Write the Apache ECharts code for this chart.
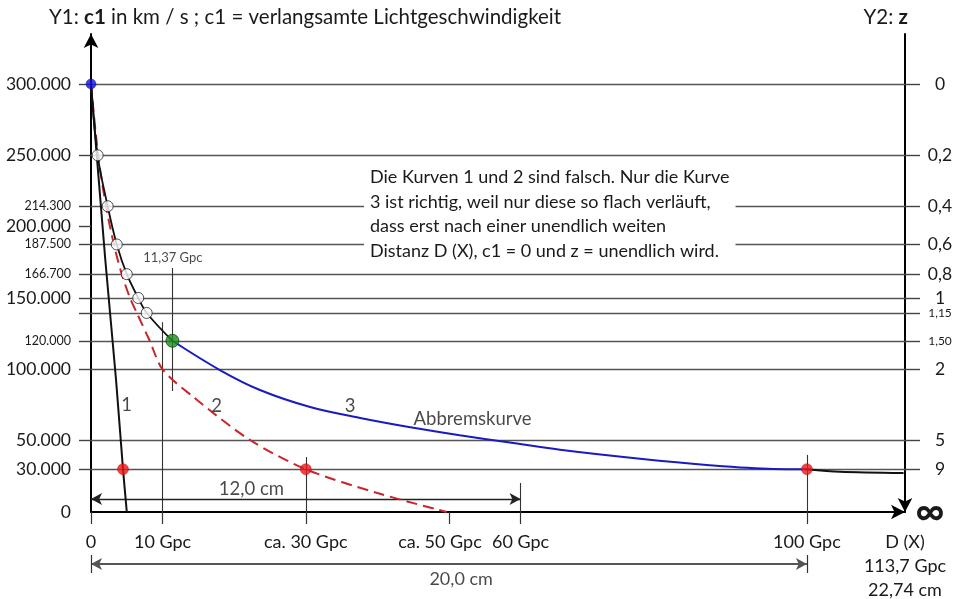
<!DOCTYPE html>
<html><head><meta charset="utf-8">
<script src="https://cdn.jsdelivr.net/npm/echarts@6/dist/echarts.min.js"></script>
<style>html,body{margin:0;padding:0;background:#fff}#c{width:960px;height:599px}</style>
</head><body><div id="c"></div>
<script>
const FONT = 'Lato';
// ---- data (x in Gpc, y = c1 in km/s) ----
const curve1 = [[0,300000],[2.0,176600],[3.5,92500],[4.47,30000],[5.0,0]];
const curve2 = [[0,300000],[1.0,250000],[2.1,214300],[3.2,187500],[4.3,166700],[5.45,150000],[6.4,139500],[8.2,120000],[10.0,100000],[14.3,80600],[22.2,50500],[30,30000],[40,13300],[49.7,0]];
const curve3Upper = [[0,300000],[0.93,250000],[2.33,214300],[3.6,187500],[5.0,166700],[6.6,150000],[7.78,139500],[11.37,120000]];
const curve3Blue = [[11.37,120000],[18,99500],[23.6,85500],[30.6,73600],[37.6,65900],[44.6,59400],[51.5,53800],[58.5,48700],[65.5,43600],[76.7,37300],[86,33000],[95.3,30200],[100,30000]];
const curve3Tail = [[100,30000],[104.6,28200],[113.5,27300]];
const openCircles = [[0.93,250000],[2.33,214300],[3.6,187500],[5.0,166700],[6.6,150000],[7.78,139500]];
const startPoint = [[0,300000]];
const greenPoint = [[11.37,120000]];
const redPoints = [[4.47,30000],[30,30000],[100,30000]];

const gridLevels = [300000,250000,214300,187500,166700,150000,139500,120000,100000,50000,30000];
const leftTickValues = [300000,250000,214300,200000,187500,166700,150000,139500,120000,100000,50000,30000];
const leftLabelValues = [300000,250000,214300,200000,187500,166700,150000,120000,100000,50000,30000,0];
const leftSmall = [214300,187500,166700,120000];
const rightLevels = [300000,250000,214300,187500,166700,150000,139500,120000,100000,50000,30000,0];
const rightLabels = ['0','0,2','0,4','0,6','0,8','1','1,15','1,50','2','5','9','∞'];
const rightSmall = ['1,15','1,50'];
const xTickValues = [0,10,30,50,60,100];
const xLabelValues = [0,10,30,50,60,100,113.7];
const xLabels = ['0','10 Gpc','ca. 30 Gpc','ca. 50 Gpc','60 Gpc','100 Gpc','D (X)\n113,7 Gpc\n22,74 cm'];

const guideLines = [[[10,133000],[10,0]],[[11.37,171000],[11.37,84800]],[[30,38500],[30,0]],[[60,20300],[60,0]],[[100,40000],[100,0]]];
const arrow12 = [[0,9100],[60,9100]];
const arrow20 = [[0,0.68],[100,0.68]];
const arrow20Ends = [[[0,0.477],[0,0.886]],[[100,0.477],[100,0.886]]];
const annotations = [[4.97,75000,'1'],[17.55,74300,'2'],[36.2,74300,'3'],[53.3,65200,'Abbremskurve'],[22.4,16100,'12,0 cm']];
const smallAnnotations = [[11.43,178000,'11,37 Gpc']];
const bottomAnnotations = [[51.7,0.34,'20,0 cm']];
const noteText = 'Die Kurven 1 und 2 sind falsch. Nur die Kurve\n3 ist richtig, weil nur diese so flach verläuft,\ndass erst nach einer unendlich weiten\nDistanz D (X), c1 = 0 und z = unendlich wird.';

function fmt(v){ return v===0 ? '0' : String(v).replace(/\B(?=(\d{3})+(?!\d))/g,'.'); }
function findIdx(arr, v){ return arr.findIndex(a => Math.abs(a - v) < 0.5); }

const chart = echarts.init(document.getElementById('c'), null, {renderer:'canvas'});
const txt = '#1a1a1a';
const option = {
  animation: false,
  backgroundColor: '#fff',
  textStyle: {fontFamily: FONT},
  title: [
    {text: 'Y1: {b|c1} in km / s ; c1 = verlangsamte Lichtgeschwindigkeit', left: 49, top: 7, padding: 0,
     textStyle: {fontFamily: FONT, fontSize: 20.5, fontWeight: 'normal', color: txt,
       rich: {b: {fontFamily: FONT, fontSize: 20.5, fontWeight: 'bold', color: txt}}}},
    {text: 'Y2: {b|z}', right: 52, top: 7, padding: 0,
     textStyle: {fontFamily: FONT, fontSize: 20.5, fontWeight: 'normal', color: txt,
       rich: {b: {fontFamily: FONT, fontSize: 20.5, fontWeight: 'bold', color: txt}}}},
    {text: noteText, left: 364, top: 162, padding: [3, 6, 3, 6], backgroundColor: '#fff', z: 8,
     textStyle: {fontFamily: FONT, fontSize: 18, lineHeight: 24.5, fontWeight: 'normal', color: txt}}
  ],
  grid: [
    {left: 91, right: 55, top: 34, bottom: 87},
    {left: 91, right: 55, top: 550, bottom: 5}
  ],
  xAxis: [
    {type: 'value', gridIndex: 0, min: 0, max: 113.7,
     axisLine: {onZero: false, show: true, symbol: ['none','arrow'], symbolSize: [11,14], lineStyle: {color: '#000', width: 2}},
     axisTick: {show: true, customValues: xTickValues, length: 12, lineStyle: {color: '#333', width: 1.2}},
     axisLabel: {show: true, customValues: xLabelValues, margin: 18, color: txt,
       formatter: v => { const i = findIdx(xLabelValues, v); if (i < 0) return '';
         return (xLabelValues[i] === 50 ? '{l|' : '{n|') + xLabels[i] + '}'; },
       rich: {n: {fontFamily: FONT, fontSize: 18, lineHeight: 24, color: txt},
              l: {fontFamily: FONT, fontSize: 18, lineHeight: 24, color: txt, padding: [0, 18, 0, 0]}}},
     splitLine: {show: false}},
    {type: 'value', gridIndex: 1, min: 0, max: 113.7, show: false}
  ],
  yAxis: [
    {type: 'value', gridIndex: 0, position: 'left', min: 0, max: 335000,
     axisLine: {show: true, symbol: ['none','arrow'], symbolSize: [11,14], lineStyle: {color: '#000', width: 2}},
     axisTick: {show: true, customValues: leftTickValues, length: 12, lineStyle: {color: '#444', width: 1.4}},
     axisLabel: {show: true, customValues: leftLabelValues, margin: 20, color: txt,
       formatter: v => leftSmall.includes(v) ? '{s|' + fmt(v) + '}' : '{b|' + fmt(v) + '}',
       rich: {b: {fontFamily: FONT, fontSize: 17.5, color: txt}, s: {fontFamily: FONT, fontSize: 12.5, color: txt}}},
     splitLine: {show: false}},
    {type: 'value', gridIndex: 0, position: 'right', min: 0, max: 335000,
     axisLine: {show: true, symbol: ['arrow','none'], symbolSize: [11,14], lineStyle: {color: '#000', width: 2}},
     axisTick: {show: true, customValues: rightLevels.slice(0, -1), length: 15, lineStyle: {color: '#444', width: 1.4}},
     axisLabel: {show: true, customValues: rightLevels, margin: 35, align: 'center', color: txt,
       formatter: v => { const i = findIdx(rightLevels, v); if (i < 0) return ''; const l = rightLabels[i];
         if (l === '∞') return '{inf|∞}'; return rightSmall.includes(l) ? '{s|' + l + '}' : '{b|' + l + '}'; },
       rich: {b: {fontFamily: FONT, fontSize: 17.5, color: txt}, s: {fontFamily: FONT, fontSize: 12, color: txt},
              inf: {fontFamily: FONT, fontSize: 40, fontWeight: 'bold', color: txt, padding: [0, 20, 0, 0]}}},
     splitLine: {show: false}},
    {type: 'value', gridIndex: 1, min: 0, max: 1, show: false}
  ],
  series: [
    {type: 'line', name: 'grid', data: [], xAxisIndex: 0, yAxisIndex: 0, silent: true,
     markLine: {silent: true, symbol: ['none','none'], label: {show: false}, animation: false,
       lineStyle: {color: '#555', width: 1.4, type: 'solid'},
       data: gridLevels.map(v => ({yAxis: v}))}},
    {type: 'line', name: 'guides', data: [], xAxisIndex: 0, yAxisIndex: 0, silent: true,
     markLine: {silent: true, symbol: ['none','none'], label: {show: false}, animation: false,
       lineStyle: {color: '#333', width: 1.1, type: 'solid'},
       data: guideLines.map(s => [{coord: s[0]}, {coord: s[1]}])}},
    {type: 'line', name: 'arrow12', data: [], xAxisIndex: 0, yAxisIndex: 0, silent: true,
     markLine: {silent: true, symbol: ['arrow','arrow'], symbolSize: [9, 11], label: {show: false}, animation: false,
       lineStyle: {color: '#222', width: 1.3, type: 'solid'},
       data: [[{coord: arrow12[0]}, {coord: arrow12[1]}]]}},
    {type: 'line', name: 'Kurve 2', data: curve2, smooth: 0.3, showSymbol: false, z: 10, clip: false,
     lineStyle: {color: '#c8262b', width: 2, type: [11, 6]}},
    {type: 'line', name: 'Kurve 1', data: curve1, smooth: 0.2, showSymbol: false, z: 11, clip: false,
     lineStyle: {color: '#111', width: 2}},
    {type: 'line', name: 'Kurve 3 oben', data: curve3Upper, smooth: 0.35, showSymbol: false, z: 11, clip: false,
     lineStyle: {color: '#111', width: 1.8}},
    {type: 'line', name: 'Abbremskurve', data: curve3Blue, smooth: 0.35, showSymbol: false, z: 11, clip: false,
     lineStyle: {color: '#1a1ac0', width: 2}},
    {type: 'line', name: 'Kurve 3 Ende', data: curve3Tail, smooth: 0.3, showSymbol: false, z: 11, clip: false,
     lineStyle: {color: '#111', width: 2}},
    {type: 'scatter', data: openCircles, symbolSize: 11, z: 12, clip: false,
     itemStyle: {color: '#fff', borderColor: '#222', borderWidth: 1}},
    {type: 'scatter', data: startPoint, symbolSize: 10, z: 12, clip: false,
     itemStyle: {color: '#1010e0', borderColor: '#0000a0', borderWidth: 0.5}},
    {type: 'scatter', data: greenPoint, symbolSize: 13, z: 12, clip: false,
     itemStyle: {color: '#1c8c1c', borderColor: '#0a4a0a', borderWidth: 1}},
    {type: 'scatter', data: redPoints, symbolSize: 11, z: 12, clip: false,
     itemStyle: {color: '#ee1515', borderColor: '#b00000', borderWidth: 0.5}},
    {type: 'scatter', data: annotations, symbolSize: 1, z: 13, clip: false, silent: true,
     itemStyle: {color: 'rgba(0,0,0,0)'},
     label: {show: true, position: 'inside', formatter: p => p.data[2], fontFamily: FONT, fontSize: 18.5, color: txt}},
    {type: 'scatter', data: smallAnnotations, symbolSize: 1, z: 13, clip: false, silent: true,
     itemStyle: {color: 'rgba(0,0,0,0)'},
     label: {show: true, position: 'inside', formatter: p => p.data[2], fontFamily: FONT, fontSize: 13, color: txt}},
    {type: 'line', name: 'arrow20', data: [], xAxisIndex: 1, yAxisIndex: 2, silent: true,
     markLine: {silent: true, symbol: ['arrow','arrow'], symbolSize: [9, 11], label: {show: false}, animation: false,
       lineStyle: {color: '#555', width: 2, type: 'solid'},
       data: [[{coord: arrow20[0]}, {coord: arrow20[1]}]]}},
    {type: 'line', name: 'arrow20ends', data: [], xAxisIndex: 1, yAxisIndex: 2, silent: true,
     markLine: {silent: true, symbol: ['none','none'], label: {show: false}, animation: false,
       lineStyle: {color: '#333', width: 1.2, type: 'solid'},
       data: arrow20Ends.map(s => [{coord: s[0]}, {coord: s[1]}])}},
    {type: 'scatter', data: bottomAnnotations, xAxisIndex: 1, yAxisIndex: 2, symbolSize: 1, z: 13, clip: false, silent: true,
     itemStyle: {color: 'rgba(0,0,0,0)'},
     label: {show: true, position: 'inside', formatter: p => p.data[2], fontFamily: FONT, fontSize: 18, color: txt}}
  ]
};
chart.setOption(option);
</script></body></html>
